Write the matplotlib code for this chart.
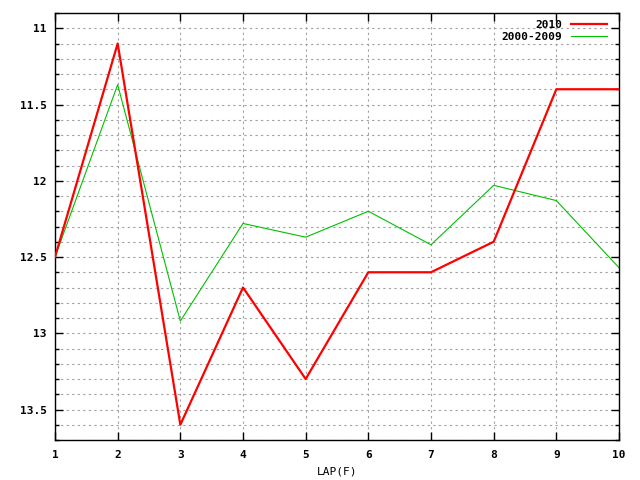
import matplotlib.pyplot as plt
from matplotlib.ticker import MultipleLocator

laps = [1, 2, 3, 4, 5, 6, 7, 8, 9, 10]
times_2010 = [12.5, 11.1, 13.6, 12.7, 13.3, 12.6, 12.6, 12.4, 11.4, 11.4]
times_2000_2009 = [12.5, 11.37, 12.92, 12.28, 12.37, 12.2, 12.42, 12.03, 12.13, 12.57]

plt.rcParams["font.family"] = ["DejaVu Sans Mono"]
plt.rcParams["font.weight"] = "bold"
plt.rcParams["font.size"] = 8

fig = plt.figure(figsize=(6.4, 4.8), dpi=100)
ax = fig.add_axes([55 / 640, 1 - 440 / 480, 564 / 640, 427 / 480])

ax.plot(laps, times_2010, color="#ff0000", linewidth=1.6, label="2010", zorder=3)
ax.plot(laps, times_2000_2009, color="#00c000", linewidth=0.8, label="2000-2009", zorder=2)

ax.set_xlim(1, 10)
ax.set_ylim(13.7, 10.9)
ax.xaxis.set_major_locator(MultipleLocator(1))
ax.yaxis.set_major_locator(MultipleLocator(0.5))
ax.yaxis.set_minor_locator(MultipleLocator(0.1))
ax.yaxis.set_major_formatter(plt.FuncFormatter(lambda v, p: f"{v:g}"))

ax.tick_params(which="both", direction="in", top=True, right=True, width=1, color="black")
ax.tick_params(which="major", length=6)
ax.tick_params(which="minor", length=3)
ax.tick_params(axis="y", pad=6)
ax.tick_params(axis="x", pad=7)

ax.grid(True, which="major", color="#a0a0a0", linestyle=(0, (2, 3)), linewidth=0.8)
ax.grid(True, which="minor", axis="y", color="#a0a0a0", linestyle=(0, (2, 3)), linewidth=0.8)
for s in ax.spines.values():
    s.set_linewidth(1)

ax.set_xlabel("LAP(F)", labelpad=5)

ax.legend(loc="upper right", frameon=False, markerfirst=False, handlelength=3.2,
          handletextpad=0.8, borderaxespad=0.2, labelspacing=0.2,
          bbox_to_anchor=(0.99, 1.0))

fig.savefig("out.png", dpi=100)
plt.close(fig)
